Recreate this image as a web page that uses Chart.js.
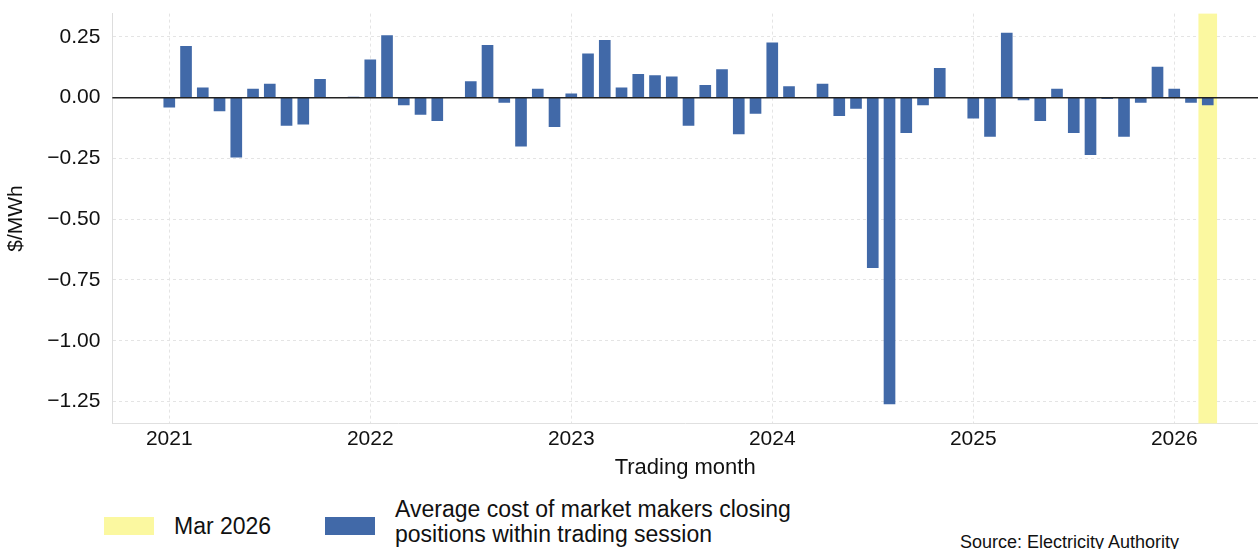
<!DOCTYPE html>
<html>
<head>
<meta charset="utf-8">
<script src="https://cdn.jsdelivr.net/npm/chart.js@4.4.1/dist/chart.umd.min.js"></script>
<style>
  body { margin: 0; background: #fff; font-family: "Liberation Sans", Arial, sans-serif; overflow: hidden; }
  #wrap { position: relative; width: 1258px; height: 549px; overflow: hidden; }
  #chart { position: absolute; left: 0; top: -11px; }
  .leg { position: absolute; font-size: 23px; color: #111; line-height: 25px; }
  .sw { position: absolute; width: 50px; height: 18px; }
</style>
</head>
<body>
<div id="wrap">
  <canvas id="chart" width="1258" height="496"></canvas>
  <div class="sw" style="left:104px;top:517px;background:#fbf8a0"></div>
  <div class="leg" style="left:174px;top:514px">Mar 2026</div>
  <div class="sw" style="left:325px;top:517px;background:#4169a8"></div>
  <div class="leg" style="left:395px;top:497px">Average cost of market makers closing<br>positions within trading session</div>
  <div class="leg" style="left:960px;top:530px;font-size:18px">Source: Electricity Authority</div>
</div>
<script>
// months counted from Jan 2021 = 0
const YEARS = [2021, 2022, 2023, 2024, 2025, 2026];
const HIGHLIGHT_MONTH = 62; // Mar 2026
const Y_TICKS = [0.25, 0, -0.25, -0.5, -0.75, -1, -1.25];

const COST = [
  // 2021
  -0.04, 0.21, 0.04, -0.055, -0.245, 0.035, 0.055, -0.115, -0.11, 0.075, null, 0.002,
  // 2022
  0.155, 0.255, -0.03, -0.07, -0.095, null, 0.065, 0.215, -0.02, -0.2, 0.035, -0.12,
  // 2023
  0.015, 0.18, 0.235, 0.04, 0.095, 0.09, 0.085, -0.115, 0.05, 0.115, -0.15, -0.065,
  // 2024
  0.225, 0.045, null, 0.055, -0.075, -0.045, -0.7, -1.26, -0.145, -0.03, 0.12, null,
  // 2025
  -0.085, -0.16, 0.265, -0.01, -0.095, 0.035, -0.145, -0.235, -0.005, -0.16, -0.02, 0.125,
  // 2026
  0.035, -0.02, -0.03
];

const costPoints = COST.map((v, i) => ({ x: i, y: v })).filter(p => p.y !== null);
const fmt = v => (v < 0 ? '\u2212' : '') + Math.abs(v).toFixed(2);
const Y_MIN = -1.34, Y_MAX = 0.345;

new Chart(document.getElementById('chart'), {
  type: 'bar',
  data: {
    datasets: [
      {
        label: 'Average cost',
        data: costPoints,
        backgroundColor: '#4169a8',
        barThickness: 11,
        grouped: false,
        order: 1
      },
      {
        label: 'Mar 2026',
        data: [{ x: HIGHLIGHT_MONTH, y: [Y_MIN, Y_MAX] }],
        backgroundColor: '#fbf8a0',
        barThickness: 18,
        grouped: false,
        order: 2
      }
    ]
  },
  options: {
    responsive: false,
    animation: false,
    layout: { padding: { left: 0, right: 0, top: 2, bottom: 0 } },
    plugins: { legend: { display: false }, tooltip: { enabled: false } },
    scales: {
      x: {
        type: 'linear',
        offset: false,
        min: -3.4, max: 65,
        afterBuildTicks: ax => { ax.ticks = YEARS.map((y, i) => ({ value: i * 12 })); },
        ticks: {
          callback: v => YEARS[v / 12],
          color: '#111', font: { size: 21, family: 'Liberation Sans' }, padding: 3
        },
        grid: { color: '#e4e4e4', drawTicks: false, offset: false },
        border: { display: true, color: '#e0e0e0', dash: [3, 3] },
        title: { display: true, text: 'Trading month', color: '#111', font: { size: 22, family: 'Liberation Sans' }, padding: { top: 0 } }
      },
      y: {
        min: Y_MIN, max: Y_MAX,
        afterBuildTicks: ax => { ax.ticks = Y_TICKS.map(v => ({ value: v })); },
        ticks: {
          callback: v => fmt(v),
          color: '#111', font: { size: 21, family: 'Liberation Sans' }, padding: 12
        },
        grid: { color: '#e4e4e4', drawTicks: false },
        border: { display: true, color: '#ddd', dash: [3, 3] },
        title: { display: true, text: '$/MWh', color: '#111', font: { size: 21, family: 'Liberation Sans' }, padding: { bottom: 6 } }
      },
      zero: {
        position: 'right',
        min: Y_MIN, max: Y_MAX,
        afterBuildTicks: ax => { ax.ticks = [{ value: 0 }]; },
        afterFit: ax => { ax.width = 0; },
        ticks: { display: false },
        grid: { color: '#222', lineWidth: 1.5, drawTicks: false, z: 1 },
        border: { display: false }
      }
    }
  }
});
</script>
</body>
</html>
